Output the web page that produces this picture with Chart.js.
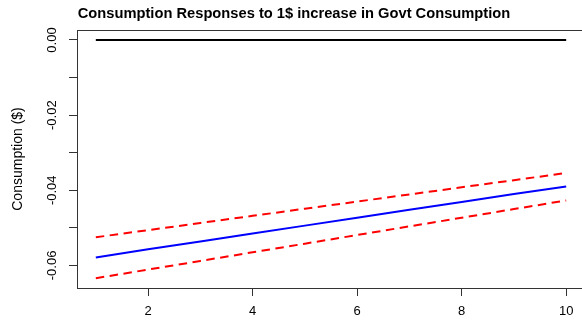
<!DOCTYPE html>
<html>
<head>
<meta charset="utf-8">
<script src="https://cdn.jsdelivr.net/npm/chart.js@4.4.1/dist/chart.umd.min.js"></script>
<style>
  html, body { margin: 0; padding: 0; background: #fff; overflow: hidden; }
  #wrap { width: 590px; height: 326px; }
</style>
</head>
<body>
<div id="wrap"><canvas id="myChart" width="590" height="326"></canvas></div>
<script>
// horizon (periods)
const periods = [1, 2, 3, 4, 5, 6, 7, 8, 9, 10];
// response of consumption, with upper / lower bands
const response = [-0.0579, -0.0557, -0.0536, -0.0515, -0.0494, -0.0473, -0.0452, -0.0431, -0.0410, -0.0390];
const upperBand = [-0.0525, -0.0506, -0.0487, -0.0468, -0.0449, -0.0430, -0.0411, -0.0392, -0.0373, -0.0354];
const lowerBand = [-0.0634, -0.0611, -0.0588, -0.0565, -0.0542, -0.0519, -0.0496, -0.0473, -0.0450, -0.0427];
const zeroLine = [0, 0, 0, 0, 0, 0, 0, 0, 0, 0];

const xTicks = [2, 4, 6, 8, 10];
const yTicks = [0, -0.01, -0.02, -0.03, -0.04, -0.05, -0.06];
const yLabels = ['0.00', '', '-0.02', '', '-0.04', '', '-0.06'];

const titleText = 'Consumption Responses to 1$ increase in Govt Consumption';
const yTitle = 'Consumption ($)';
const FONT = '"Liberation Sans", Arial, Helvetica, sans-serif';

const pts = arr => arr.map((v, i) => ({ x: periods[i], y: v }));

// R-style box, rotated y labels, titles
const rDecor = {
    id: 'rDecor',
    afterDraw(chart) {
        const ctx = chart.ctx;
        const a = chart.chartArea;
        const ys = chart.scales.y;
        ctx.save();
        ctx.strokeStyle = '#333';
        ctx.lineWidth = 1;
        ctx.strokeRect(Math.round(a.left) + 0.5, Math.round(a.top) + 0.5,
            Math.round(a.right - a.left), Math.round(a.bottom - a.top));

        ctx.fillStyle = '#000';
        ctx.font = '13px ' + FONT;
        ctx.textAlign = 'center';
        ctx.textBaseline = 'middle';
        yTicks.forEach((v, i) => {
            if (!yLabels[i]) return;
            ctx.save();
            ctx.translate(52, ys.getPixelForValue(v));
            ctx.rotate(-Math.PI / 2);
            ctx.fillText(yLabels[i], 0, 0);
            ctx.restore();
        });

        ctx.font = '14px ' + FONT;
        ctx.save();
        ctx.translate(18, (a.top + a.bottom) / 2);
        ctx.rotate(-Math.PI / 2);
        ctx.fillText(yTitle, 0, 0);
        ctx.restore();

        ctx.font = 'bold 14.7px ' + FONT;
        ctx.textBaseline = 'alphabetic';
        ctx.fillText(titleText, 294, 17.5);
        ctx.restore();
    }
};

new Chart(document.getElementById('myChart'), {
    type: 'line',
    data: {
        datasets: [
            { label: 'zero', data: pts(zeroLine), borderColor: '#000', borderWidth: 2 },
            { label: 'response', data: pts(response), borderColor: '#0000ff', borderWidth: 2 },
            { label: 'upper', data: pts(upperBand), borderColor: '#ff0000', borderWidth: 2, borderDash: [8.5, 5.5] },
            { label: 'lower', data: pts(lowerBand), borderColor: '#ff0000', borderWidth: 2, borderDash: [8.5, 5.5] }
        ]
    },
    options: {
        responsive: false,
        animation: false,
        events: [],
        elements: { point: { radius: 0 }, line: { tension: 0, borderCapStyle: 'butt' } },
        layout: { padding: { top: 30, left: 0, right: 5, bottom: 0 } },
        plugins: { legend: { display: false }, title: { display: false }, tooltip: { enabled: false } },
        scales: {
            x: {
                type: 'linear',
                min: 0.64,
                max: 10.36,
                afterBuildTicks: s => { s.ticks = xTicks.map(v => ({ value: v })); },
                afterFit: s => { s.height = 38; },
                grid: { drawOnChartArea: false, drawTicks: true, tickLength: 8, color: '#333' },
                border: { display: true, color: '#333' },
                ticks: {
                    color: '#000',
                    font: { family: FONT, size: 13 },
                    padding: 8,
                    maxRotation: 0,
                    callback: v => String(v)
                }
            },
            y: {
                type: 'linear',
                min: -0.066,
                max: 0.00266,
                afterBuildTicks: s => { s.ticks = yTicks.map(v => ({ value: v })); },
                afterFit: s => { s.width = 77; },
                grid: { drawOnChartArea: false, drawTicks: true, tickLength: 8, color: '#333' },
                border: { display: true, color: '#333' },
                ticks: { display: false }
            }
        }
    },
    plugins: [rDecor]
});
</script>
</body>
</html>
